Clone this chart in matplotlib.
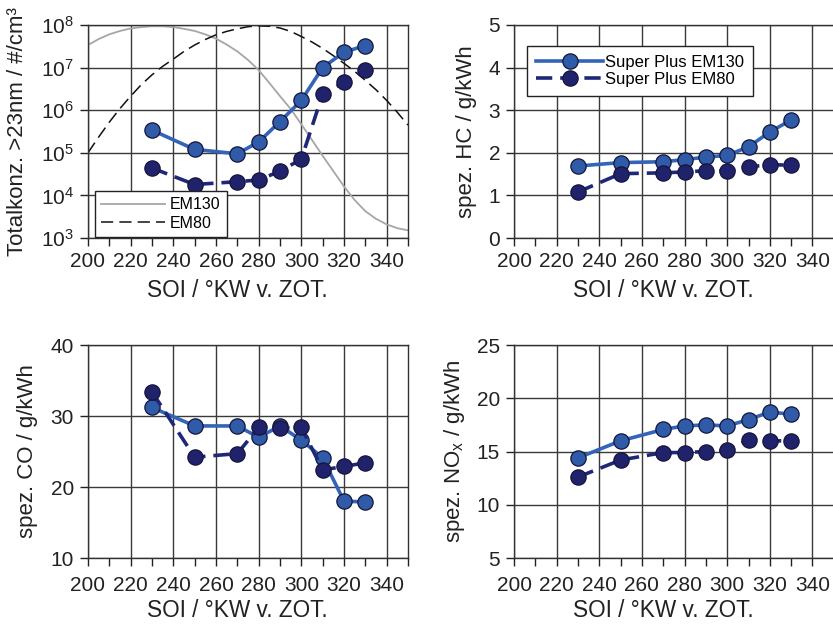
import matplotlib
matplotlib.use("Agg")
import matplotlib.pyplot as plt
from matplotlib.ticker import MultipleLocator, LogLocator, NullLocator

plt.rcParams['font.family'] = ['Liberation Sans', 'DejaVu Sans']
plt.rcParams['mathtext.default'] = 'regular'

# ---- data ----
soi = [230, 250, 270, 280, 290, 300, 310, 320, 330]

pn_em130 = [3.4e5, 1.2e5, 9.5e4, 1.8e5, 5.4e5, 1.7e6, 1.0e7, 2.3e7, 3.3e7]
pn_em80 = [4.4e4, 1.8e4, 2.1e4, 2.3e4, 3.7e4, 7.1e4, 2.4e6, 4.5e6, 8.7e6]

hc_em130 = [1.69, 1.77, 1.79, 1.84, 1.90, 1.94, 2.14, 2.49, 2.77]
hc_em80 = [1.08, 1.51, 1.53, 1.55, 1.58, 1.58, 1.67, 1.72, 1.71]

co_em130 = [31.2, 28.6, 28.6, 27.0, 28.6, 26.6, 24.1, 18.0, 17.9]
co_em80 = [33.4, 24.2, 24.7, 28.4, 28.3, 28.4, 22.4, 22.9, 23.4]

nox_em130 = [14.4, 16.0, 17.07, 17.4, 17.5, 17.4, 18.0, 18.7, 18.5]
nox_em80 = [12.6, 14.2, 14.9, 14.9, 15.0, 15.1, 16.1, 16.0, 16.0]

# background reference curves (log10 of concentration)
ref_x = [200, 205, 210, 215, 220, 225, 230, 235, 240, 245, 250, 255, 260, 265, 270, 275,
         280, 285, 290, 295, 300, 305, 310, 315, 320, 325, 330, 335, 340, 345, 350]
ref_em130_log = [7.53, 7.67, 7.78, 7.86, 7.92, 7.95, 7.97, 7.97, 7.95, 7.91, 7.86, 7.78, 7.68, 7.54,
                 7.38, 7.18, 6.94, 6.64, 6.33, 6.03, 5.67, 5.30, 4.93, 4.57, 4.21, 3.89, 3.63, 3.45,
                 3.32, 3.23, 3.18]
ref_em80_log = [5.00, 5.37, 5.72, 6.04, 6.33, 6.60, 6.83, 7.03, 7.20, 7.38, 7.53, 7.66, 7.77, 7.85,
                7.91, 7.96, 7.98, 7.97, 7.93, 7.85, 7.73, 7.60, 7.45, 7.28, 7.10, 6.91, 6.70, 6.48,
                6.23, 5.95, 5.65]

xticks = [200, 220, 240, 260, 280, 300, 320, 340]
xlabel = "SOI / °KW v. ZOT."
label_em130 = "Super Plus EM130"
label_em80 = "Super Plus EM80"

# ---- styles ----
c130_line = '#3464b8'
c130_face = '#2f5ba8'
c80_line = '#1f2878'
c80_face = '#20236c'
edge = '#15153a'
grid_c = '#3a3a3a'
txt_c = '#222222'

W, H = 833, 625
fig = plt.figure(figsize=(W / 100, H / 100), dpi=100)


def make_ax(l, t, r, b):
    return fig.add_axes([l / W, 1 - b / H, (r - l) / W, (b - t) / H])


ax_pn = make_ax(88, 25, 408, 238)
ax_hc = make_ax(514, 25, 833.8, 238)
ax_co = make_ax(88, 345, 408, 558)
ax_nox = make_ax(514, 345, 833.8, 558)


def style(ax, top_row, ylabel, ylab_x):
    ax.set_xlim(200, 350)
    ax.set_xticks(xticks)
    ax.xaxis.set_minor_locator(MultipleLocator(10))
    ax.grid(True, which='major', color=grid_c, lw=1.0)
    ax.set_axisbelow(True)
    ax.tick_params(which='both', direction='out', labelsize=15, color=txt_c,
                   labelcolor=txt_c, length=6, width=1.0)
    ax.tick_params(axis='x', which='both', pad=4.0 if top_row else 7.0)
    ax.tick_params(axis='y', which='both', pad=4)
    for s in ax.spines.values():
        s.set_color('#333333')
        s.set_linewidth(1.0)
    ax.set_xlabel(xlabel, fontsize=16.3, color=txt_c)
    ax.xaxis.set_label_coords(0.4667, -0.192 if top_row else -0.192)
    ax.set_ylabel(ylabel, fontsize=16, color=txt_c)
    ax.yaxis.set_label_coords(ylab_x, 0.5)


def plot_series(ax, y130, y80, with_label=False):
    ax.plot(soi, y130, '-', color=c130_line, lw=2.6, marker='o', ms=11,
            mfc=c130_face, mec=edge, mew=0.9, zorder=3,
            label=label_em130 if with_label else None)
    ax.plot(soi, y80, '-', color=c80_line, lw=2.6, dashes=(4.5, 2.2), marker='o', ms=11,
            mfc=c80_face, mec=edge, mew=0.9, zorder=4,
            label=label_em80 if with_label else None)


# --- particle number (log) ---
ref130 = [10 ** v for v in ref_em130_log]
ref80 = [10 ** v for v in ref_em80_log]
l1, = ax_pn.plot(ref_x, ref130, color='#a6a6a6', lw=1.3, zorder=2, label='EM130')
l2, = ax_pn.plot(ref_x, ref80, color='#111111', lw=1.1, dashes=(8, 4), zorder=2, label='EM80')
plot_series(ax_pn, pn_em130, pn_em80)
ax_pn.set_yscale('log')
ax_pn.set_ylim(1e3, 1e8)
ax_pn.yaxis.set_major_locator(LogLocator(base=10, numticks=10))
ax_pn.yaxis.set_minor_locator(NullLocator())
style(ax_pn, True, "Totalkonz. >23nm / #/cm³", -0.189)
leg1 = ax_pn.legend(handles=[l1, l2], loc='upper left', bbox_to_anchor=(0.022, 0.221),
                    borderaxespad=0, fontsize=11.5, handlelength=4.0, frameon=True,
                    fancybox=False, framealpha=1, edgecolor=txt_c,
                    borderpad=0.4, labelspacing=0.2, handletextpad=0.3)
leg1.get_frame().set_linewidth(1.0)

# --- HC ---
plot_series(ax_hc, hc_em130, hc_em80, with_label=True)
ax_hc.set_ylim(0, 5)
ax_hc.yaxis.set_major_locator(MultipleLocator(1))
style(ax_hc, True, "spez. HC / g/kWh", -0.116)
leg2 = ax_hc.legend(loc='upper left', bbox_to_anchor=(0.041, 0.901), borderaxespad=0,
                    fontsize=12, handlelength=4.0, frameon=True, fancybox=False,
                    framealpha=1, edgecolor=txt_c, borderpad=0.55,
                    labelspacing=0.12, handletextpad=0.1)
leg2.get_frame().set_linewidth(1.0)

# --- CO ---
plot_series(ax_co, co_em130, co_em80)
ax_co.set_ylim(10, 40)
ax_co.yaxis.set_major_locator(MultipleLocator(10))
style(ax_co, False, "spez. CO / g/kWh", -0.156)

# --- NOx ---
plot_series(ax_nox, nox_em130, nox_em80)
ax_nox.set_ylim(5, 25)
ax_nox.yaxis.set_major_locator(MultipleLocator(5))
style(ax_nox, False, "spez. NO$_x$ / g/kWh", -0.148)

fig.savefig("out.png", dpi=100)
